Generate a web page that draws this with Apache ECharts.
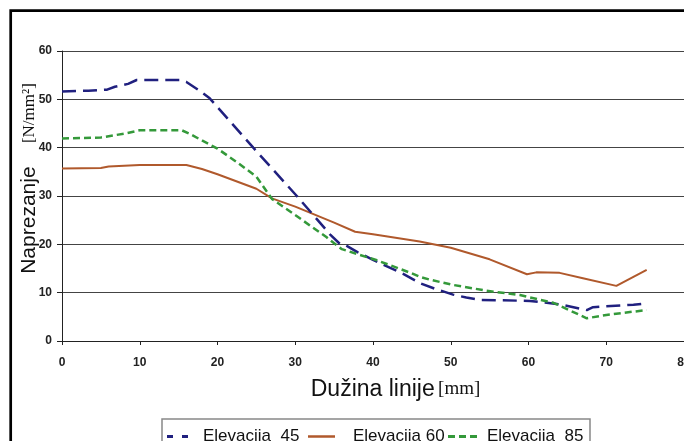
<!DOCTYPE html>
<html><head><meta charset="utf-8">
<script src="https://cdn.jsdelivr.net/npm/echarts@6/dist/echarts.min.js"></script>
<style>html,body{margin:0;padding:0;background:#fff}#c{width:684px;height:441px}</style>
</head><body><div id="c"></div><script>
// ---- data ----
const seriesNames = ['Elevacija  45', 'Elevacija 60', 'Elevacija  85'];
const x45 = [0, 3.4, 5.8, 6.8, 8.5, 9.6, 15.2, 16, 17.5, 19, 24.6, 30.2, 33, 34.5, 35.8, 36.5, 38, 40, 44, 46, 48, 50.3, 52, 53.8, 60.2, 64, 67.5, 68.3, 70, 73.5, 75.2];
const y45 = [51.6, 51.8, 52, 52.6, 53.2, 54, 54, 53.6, 52, 50.2, 40, 30, 24.8, 22, 20, 19.8, 18.4, 16.8, 13.8, 12, 10.8, 9.6, 9, 8.5, 8.3, 7.6, 6.4, 7, 7.2, 7.5, 7.8];
const x60 = [0, 5, 6, 10, 16, 18, 20, 25, 27, 30, 35, 37.7, 40, 46, 50, 55, 59.8, 61, 64, 67, 71.3, 75.2];
const y60 = [35.7, 35.8, 36.1, 36.4, 36.4, 35.6, 34.5, 31.5, 29.5, 27.8, 24.5, 22.6, 22.1, 20.6, 19.3, 16.9, 13.8, 14.2, 14.1, 13.0, 11.4, 14.7];
const x85 = [0, 5, 8, 10, 15.4, 16.5, 18, 20, 22.5, 25, 27, 29.7, 34, 36, 40.5, 45, 46, 47.3, 50.3, 54.6, 58.9, 63.2, 67.5, 70, 75.2];
const y85 = [41.9, 42.1, 42.9, 43.6, 43.6, 42.8, 41.5, 39.8, 37, 34, 29.4, 26.4, 21.5, 19, 16.7, 14, 13.3, 12.7, 11.6, 10.4, 9.5, 7.9, 4.7, 5.4, 6.4];
const xTicks = {min: 0, max: 80, interval: 10};
const yTicks = {min: 0, max: 60, interval: 10};
const xTitle = 'Dužina linije';
const xUnit = '[mm]';
const yTitle = 'Naprezanje';
const yUnit = '[N/mm²]';
// --------------------------------------

const zip = (xs, ys) => xs.map((x, i) => [x, ys[i]]);
const tickFont = {fontSize: 12, fontWeight: 'bold', fontFamily: '"Liberation Sans Narrow", "Arial Narrow", sans-serif', color: '#222'};
const legendFont = {fontSize: 17, fontFamily: '"Liberation Sans", Arial, sans-serif', color: '#111'};
const chart = echarts.init(document.getElementById('c'), null, {renderer: 'canvas'});

const colors = ['#20207f', '#b0592c', '#34993a'];
const lineTypes = [[14, 7], 'solid', [7, 4]];

const legendCommon = {top: 428, padding: 0, itemHeight: 3, selectedMode: false, orient: 'horizontal'};

chart.setOption({
  animation: false,
  backgroundColor: '#fff',
  grid: {left: 62, top: 51, width: 622, height: 290, containLabel: false, outerBoundsMode: 'none'},
  xAxis: {
    type: 'value', min: xTicks.min, max: xTicks.max, interval: xTicks.interval,
    axisLine: {show: true, lineStyle: {color: '#222', width: 1}},
    axisTick: {show: true, length: 4, lineStyle: {color: '#222'}},
    axisLabel: Object.assign({margin: 16}, tickFont),
    splitLine: {show: false},
    name: '{a|' + xTitle + '} {b|' + xUnit + '}',
    nameLocation: 'middle', nameGap: 37, nameMoveOverlap: false,
    nameTextStyle: {
      padding: [0, 0, 0, 45],
      rich: {
        a: {fontSize: 23, fontFamily: '"Liberation Sans", Arial, sans-serif', color: '#111'},
        b: {fontSize: 19, fontFamily: '"Liberation Serif", "Times New Roman", serif', color: '#111'}
      }
    }
  },
  yAxis: {
    type: 'value', min: yTicks.min, max: yTicks.max, interval: yTicks.interval,
    axisLine: {show: true, lineStyle: {color: '#222', width: 1}},
    axisTick: {show: true, length: 5, lineStyle: {color: '#222'}},
    axisLabel: Object.assign({margin: 10}, tickFont),
    splitLine: {show: true, lineStyle: {color: '#444', width: 1}},
    name: '{a|' + yTitle + '    }{b|' + yUnit + '}',
    nameLocation: 'middle', nameRotate: 90, nameGap: 22, nameMoveOverlap: false,
    nameTextStyle: {
      padding: [0, 0, 0, 35],
      rich: {
        a: {fontSize: 21, fontFamily: '"Liberation Sans", Arial, sans-serif', color: '#111'},
        b: {fontSize: 17, fontFamily: '"Liberation Serif", "Times New Roman", serif', color: '#111'}
      }
    }
  },
  legend: [
    Object.assign({}, legendCommon, {left: 167, itemWidth: 21,
      data: [{name: seriesNames[0], icon: 'path://M0,0h6v3h-6zM15,0h6v3h-6z'}],
      textStyle: Object.assign({padding: [0, 0, 0, 10]}, legendFont)}),
    Object.assign({}, legendCommon, {left: 308, itemWidth: 27,
      data: [{name: seriesNames[1], icon: 'path://M0,0h27v2.5h-27z'}],
      textStyle: Object.assign({padding: [0, 0, 0, 13]}, legendFont)}),
    Object.assign({}, legendCommon, {left: 448, itemWidth: 29,
      data: [{name: seriesNames[2], icon: 'path://M0,0h7v3h-7zM11,0h7v3h-7zM22,0h7v3h-7z'}],
      textStyle: Object.assign({padding: [0, 0, 0, 5]}, legendFont)})
  ],
  graphic: [
    {type: 'rect', z: 0, shape: {x: 10.7, y: 10.7, width: 720, height: 520}, style: {fill: 'transparent', stroke: '#000', lineWidth: 2.7}},
    {type: 'rect', z: 0, shape: {x: 162, y: 419, width: 428, height: 40}, style: {fill: '#fff', stroke: '#888', lineWidth: 1.5}}
  ],
  series: [
    {name: seriesNames[0], type: 'line', symbol: 'none', data: zip(x45, y45), color: colors[0],
      lineStyle: {color: colors[0], width: 2.5, type: lineTypes[0]}, z: 3},
    {name: seriesNames[1], type: 'line', symbol: 'none', data: zip(x60, y60), color: colors[1],
      lineStyle: {color: colors[1], width: 2, type: lineTypes[1]}, z: 2},
    {name: seriesNames[2], type: 'line', symbol: 'none', data: zip(x85, y85), color: colors[2],
      lineStyle: {color: colors[2], width: 2.5, type: lineTypes[2]}, z: 4}
  ]
});
</script></body></html>
